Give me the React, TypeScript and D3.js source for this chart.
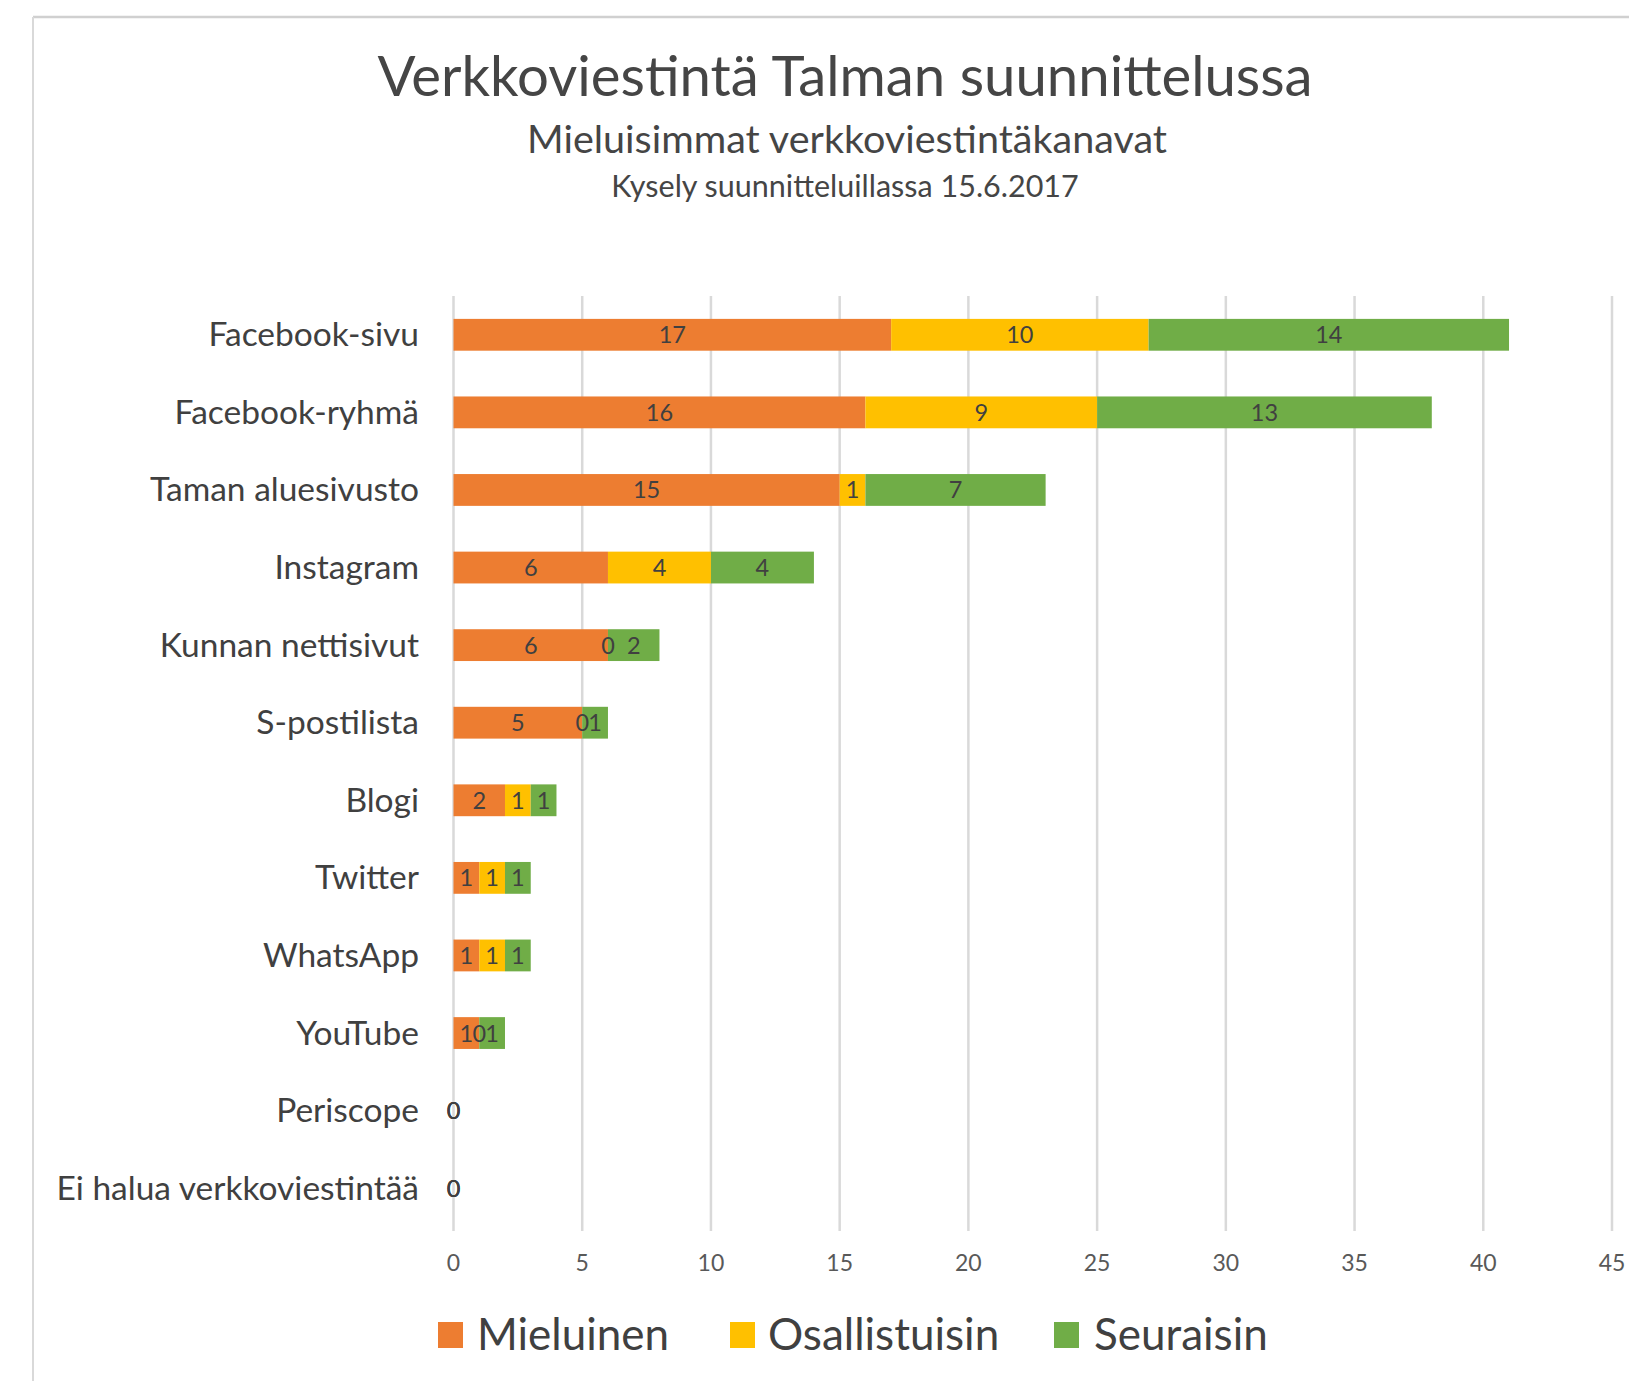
import React from "react";
import * as d3 from "d3";

const categories = [
  "Facebook-sivu",
  "Facebook-ryhmä",
  "Taman aluesivusto",
  "Instagram",
  "Kunnan nettisivut",
  "S-postilista",
  "Blogi",
  "Twitter",
  "WhatsApp",
  "YouTube",
  "Periscope",
  "Ei halua verkkoviestintää",
];
const mieluinen = [17, 16, 15, 6, 6, 5, 2, 1, 1, 1, 0, 0];
const osallistuisin = [10, 9, 1, 4, 0, 0, 1, 1, 1, 0, 0, 0];
const seuraisin = [14, 13, 7, 4, 2, 1, 1, 1, 1, 1, 0, 0];
const seriesNames = ["Mieluinen", "Osallistuisin", "Seuraisin"];
const seriesColors = ["#ED7D31", "#FFC000", "#70AD47"];
const xTicks = [0, 5, 10, 15, 20, 25, 30, 35, 40, 45];

const W = 1629;
const H = 1381;
const FONT = "Lato, 'Open Sans', sans-serif";

export default function App() {
  const x = d3.scaleLinear().domain([0, 45]).range([453.5, 1612]);
  const y = d3.scaleBand().domain(categories).range([296, 1227]).paddingInner(0.59).paddingOuter(0.295);

  const rows = categories.map((c, i) => ({
    cat: c,
    vals: [mieluinen[i], osallistuisin[i], seuraisin[i]],
  }));
  const stack = d3
    .stack<any>()
    .keys([0, 1, 2] as any)
    .value((d: any, k: any) => d.vals[k]);
  const stacked = stack(rows as any);

  const legendItems = [
    { sx: 438, tx: 477 },
    { sx: 730, tx: 768 },
    { sx: 1054, tx: 1094 },
  ];

  return (
    <svg
      width={W}
      height={H}
      style={{ position: "absolute", left: 0, top: 0, background: "#fff" }}
      fontFamily={FONT}
    >
      <rect x={0} y={0} width={W} height={H} fill="#fff" />
      <line x1={33} y1={17} x2={W} y2={17} stroke="#d0d0d0" strokeWidth={2.5} />
      <line x1={33} y1={17} x2={33} y2={H} stroke="#d9d9d9" strokeWidth={2} />

      <text x={845} y={96} textAnchor="middle" fontSize={56.3} fill="#454545">
        Verkkoviestintä Talman suunnittelussa
      </text>
      <text x={847} y={153} textAnchor="middle" fontSize={39.5} fill="#454545">
        Mieluisimmat verkkoviestintäkanavat
      </text>
      <text x={845} y={197} textAnchor="middle" fontSize={30.5} fill="#454545">
        Kysely suunnitteluillassa 15.6.2017
      </text>

      {xTicks.map((t) => (
        <g key={t}>
          <line x1={x(t)} x2={x(t)} y1={296} y2={1231} stroke="#d9d9d9" strokeWidth={2.5} />
          <text x={x(t)} y={1271} textAnchor="middle" fontSize={23} fill="#595959">
            {t}
          </text>
        </g>
      ))}

      {stacked.map((layer, si) =>
        layer.map((d: any, i: number) => (
          <rect
            key={si + "-" + i}
            x={x(d[0])}
            y={y(categories[i])!}
            width={x(d[1]) - x(d[0])}
            height={y.bandwidth()}
            fill={seriesColors[si]}
          />
        ))
      )}

      {stacked.map((layer, si) =>
        layer.map((d: any, i: number) => (
          <text
            key={"l" + si + "-" + i}
            x={(x(d[0]) + x(d[1])) / 2}
            y={y(categories[i])! + y.bandwidth() / 2 + 8.5}
            textAnchor="middle"
            fontSize={23.5}
            fill="#404040"
          >
            {d[1] - d[0]}
          </text>
        ))
      )}

      {categories.map((c) => (
        <text
          key={c}
          x={419}
          y={y(c)! + y.bandwidth() / 2 + 11.5}
          textAnchor="end"
          fontSize={33.5}
          fill="#404040"
        >
          {c}
        </text>
      ))}

      {seriesNames.map((s, i) => (
        <g key={s}>
          <rect x={legendItems[i].sx} y={1322} width={25} height={26} fill={seriesColors[i]} />
          <text x={legendItems[i].tx} y={1350} fontSize={44} fill="#404040">
            {s}
          </text>
        </g>
      ))}
    </svg>
  );
}
